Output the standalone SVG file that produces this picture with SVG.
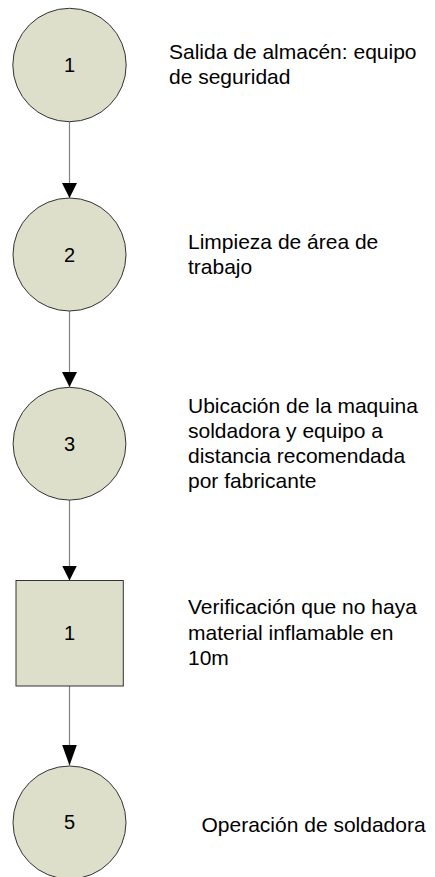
<svg xmlns="http://www.w3.org/2000/svg" width="435" height="877" viewBox="0 0 435 877">
<style>
.node{fill:#dddfca;stroke:#333333;stroke-width:1}
.num{font-family:"Liberation Sans",Arial,sans-serif;font-size:20px;fill:#000;text-anchor:middle}
.lbl{font-family:"Liberation Sans",Arial,sans-serif;font-size:21px;fill:#000}
.conn{stroke:#808080;stroke-width:1.2;fill:none}
</style>
<defs>
<marker id="arr" viewBox="0 0 15 15" markerWidth="15" markerHeight="15" refX="15" refY="7.5" orient="auto" markerUnits="userSpaceOnUse">
<path d="M0,0 L15,7.5 L0,15 Z" fill="#000"/>
</marker>
<marker id="arrL" viewBox="0 0 21 15" markerWidth="21" markerHeight="15" refX="21" refY="7.5" orient="auto" markerUnits="userSpaceOnUse">
<path d="M0,0 L21,7.5 L0,15 Z" fill="#000"/>
</marker>
</defs>
<rect width="435" height="877" fill="#fff"/>
<g id="connectors">
<line class="conn" x1="69.5" y1="122" x2="69.5" y2="198" marker-end="url(#arr)"/>
<line class="conn" x1="69.5" y1="311" x2="69.5" y2="387" marker-end="url(#arr)"/>
<line class="conn" x1="69.5" y1="500" x2="69.5" y2="580.5" marker-end="url(#arr)"/>
<line class="conn" x1="69.5" y1="686" x2="69.5" y2="765.5" marker-end="url(#arrL)"/>
</g>
<g id="node1">
<circle class="node" cx="69.5" cy="65" r="56.7"/>
<text class="num" x="69.5" y="72">1</text>
<text class="lbl" x="169" y="58.5">Salida de almacén: equipo</text>
<text class="lbl" x="169" y="83.5">de seguridad</text>
</g>
<g id="node2">
<circle class="node" cx="69.5" cy="254.5" r="56.5"/>
<text class="num" x="69.5" y="261.5">2</text>
<text class="lbl" x="188" y="249">Limpieza de área de</text>
<text class="lbl" x="188" y="274">trabajo</text>
</g>
<g id="node3">
<circle class="node" cx="69.5" cy="443.7" r="56.4"/>
<text class="num" x="69.5" y="450.5">3</text>
<text class="lbl" x="188" y="412.5">Ubicación de la maquina</text>
<text class="lbl" x="188" y="437.5">soldadora y equipo a</text>
<text class="lbl" x="188" y="462.5">distancia recomendada</text>
<text class="lbl" x="188" y="487.5">por fabricante</text>
</g>
<g id="node4">
<rect class="node" x="16" y="580.5" width="107.3" height="105.5"/>
<text class="num" x="69.5" y="640">1</text>
<text class="lbl" x="188" y="614">Verificación que no haya</text>
<text class="lbl" x="188" y="639.5">material inflamable en</text>
<text class="lbl" x="188" y="665">10m</text>
</g>
<g id="node5">
<circle class="node" cx="69.5" cy="822.5" r="56.5"/>
<text class="num" x="69.5" y="829">5</text>
<text class="lbl" x="201.5" y="832">Operación de soldadora</text>
</g>
</svg>
